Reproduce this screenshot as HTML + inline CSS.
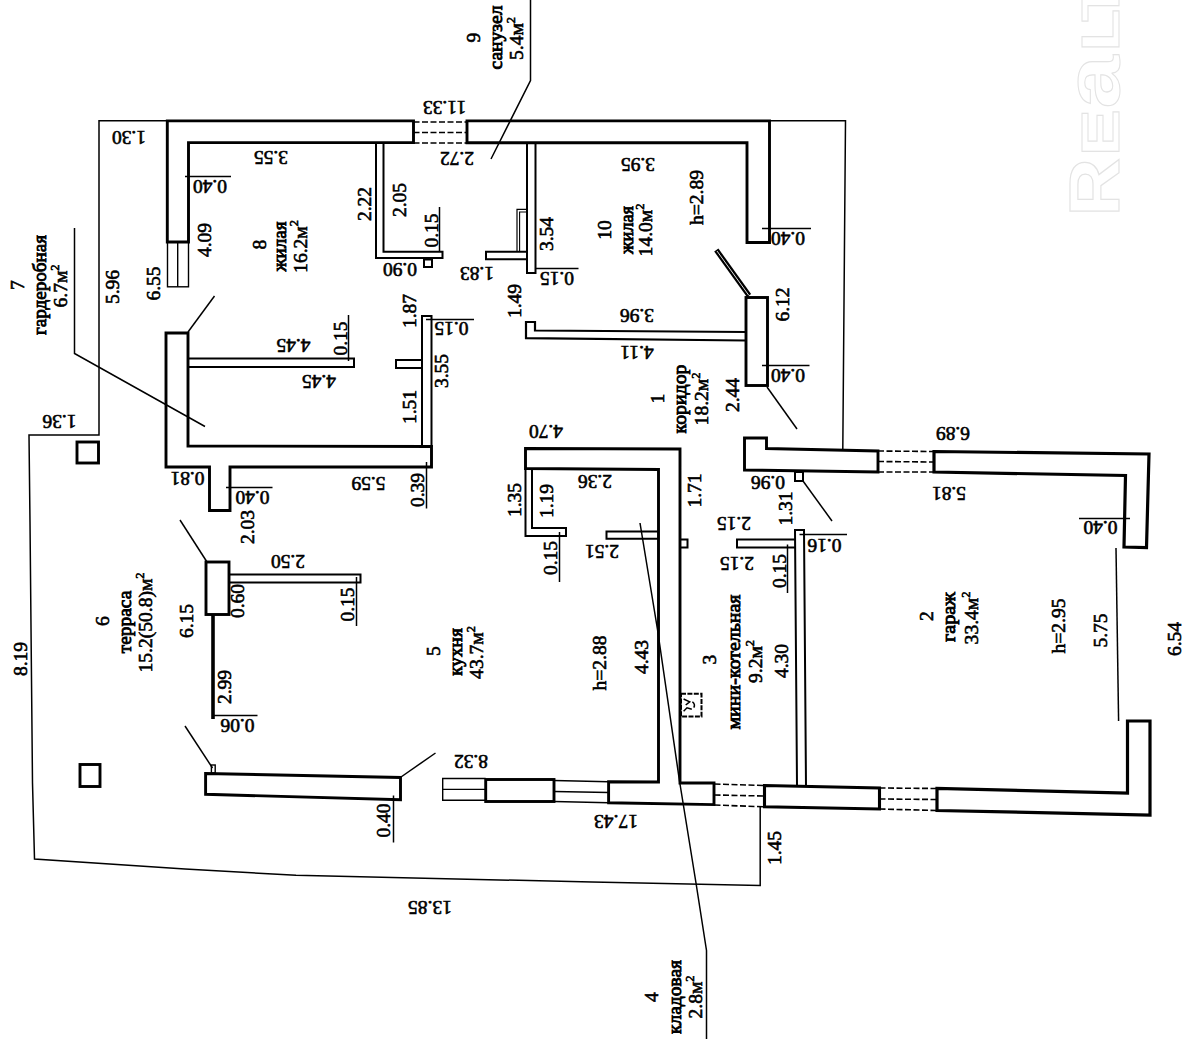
<!DOCTYPE html>
<html><head><meta charset="utf-8"><title>plan</title>
<style>
html,body{margin:0;padding:0;background:#fff;}
body{width:1184px;height:1044px;overflow:hidden;font-family:"Liberation Serif",serif;}
svg{display:block;}
</style></head><body>
<svg width="1184" height="1044" viewBox="0 0 1184 1044">
<rect x="0" y="0" width="1184" height="1044" fill="#fff"/>
<g stroke="#000" fill="none" stroke-linecap="butt" stroke-linejoin="miter">
<path d="M167,120.8 L99,120.8 L99,435 L29,435 L30,522 L32.5,783 L34.5,859 L185,869 L296,875.3 L592,882 L760.2,885.5 L760.2,807" stroke-width="1.5" fill="none"/>
<path d="M769.5,120.8 L845.5,120.8 L842.8,449" stroke-width="1.5" fill="none"/>
<path d="M530.5,0 L530.5,80.5 L491,159" stroke-width="1.5" fill="none"/>
<path d="M74.5,228 L74.5,353.5 L205,426.5" stroke-width="1.5" fill="none"/>
<path d="M640,523 L657.5,629.5 L679.5,781 L696,883 L706.5,950.5 L706.5,1039" stroke-width="1.5" fill="none"/>
<path d="M1116,548 L1118.6,721" stroke-width="1.5" fill="none"/>
<line x1="188" y1="332" x2="214.5" y2="296" stroke-width="1.5" />
<line x1="180" y1="520" x2="207" y2="562" stroke-width="1.5" />
<line x1="185" y1="726" x2="212.5" y2="768" stroke-width="1.5" />
<line x1="401" y1="777" x2="435.5" y2="753" stroke-width="1.5" />
<line x1="767" y1="387" x2="797" y2="429" stroke-width="1.5" />
<line x1="803" y1="481" x2="832" y2="521" stroke-width="1.5" />
</g>
<g stroke="#000" fill="none" stroke-linejoin="miter">
<path d="M167.3,120.9 L413.5,120.9 L413.5,142.6 L188.5,142.6 L188.5,242 L167.3,242 Z" stroke-width="2.9" fill="none"/>
<path d="M467,120.9 L769.5,120.9 L769.5,242.5 L747,242.5 L747,142.8 L467,142.8 Z" stroke-width="2.9" fill="none"/>
<line x1="413.5" y1="122" x2="467" y2="122" stroke-width="1.6" stroke-dasharray="6 2.5"/>
<line x1="413.5" y1="132.5" x2="467" y2="132.5" stroke-width="1.6" stroke-dasharray="6 2.5"/>
<line x1="413.5" y1="143" x2="467" y2="143" stroke-width="1.6" stroke-dasharray="6 2.5"/>
<rect x="167.5" y="242" width="21.0" height="44.80000000000001" stroke-width="1.4" fill="none" />
<line x1="177.7" y1="242" x2="177.7" y2="286.8" stroke-width="1.4" />
<path d="M166,333 L188,333 L188,446 L431.5,446.5 L431.5,467 L230,467 L230,510.5 L209.5,510.5 L209.5,467 L166,467 Z" stroke-width="2.9" fill="none"/>
<path d="M188,358.5 L354,358.5 L354,367 L188,367" stroke-width="2.0" fill="none"/>
<path d="M422,447 L422,316 L431.5,316 L431.5,447" stroke-width="2.0" fill="none"/>
<path d="M422,360 L396,360 L396,368 L422,368" stroke-width="2.0" fill="none"/>
<path d="M376,143 L376,258 L442.5,258 L442.5,251.7 L383.5,251.7 L383.5,143" stroke-width="2.0" fill="none"/>
<rect x="424" y="259.5" width="8" height="7.5" stroke-width="2.0" fill="none" />
<path d="M527,143 L527,273 L535.5,273 L535.5,143" stroke-width="2.0" fill="none"/>
<path d="M527,251.7 L486,251.7 L486,259.3 L527,259.3" stroke-width="2.0" fill="none"/>
<path d="M517,252 L517,209.3 L526,209.3" stroke-width="1.2" fill="none"/>
<path d="M519.6,252 L519.6,212 L526,212" stroke-width="1.1" fill="none"/>
<path d="M746,332 L535,330.5 L535,322 L526,322 L526,338.2 L746,340.5" stroke-width="2.2" fill="none"/>
<rect x="746" y="297.5" width="21.5" height="88.0" stroke-width="2.9" fill="none" />
<line x1="716.3" y1="250" x2="749" y2="295.5" stroke-width="5.2" />
<line x1="717" y1="251" x2="748.6" y2="295" stroke-width="1.0" stroke="#ddd"/>
<path d="M744.5,438 L766.5,438 L766.5,448.5 L878,451 L878,472 L744.5,470 Z" stroke-width="2.9" fill="none"/>
<line x1="878" y1="451" x2="934" y2="451.5" stroke-width="1.6" stroke-dasharray="6 2.5"/>
<line x1="878" y1="461.5" x2="934" y2="462" stroke-width="1.6" stroke-dasharray="6 2.5"/>
<line x1="878" y1="472" x2="934" y2="472" stroke-width="1.6" stroke-dasharray="6 2.5"/>
<path d="M934,451.5 L1149,454 L1146.5,547.5 L1124,547 L1125.5,475.5 L934,472 Z" stroke-width="3.2" fill="none"/>
<path d="M1127.5,721 L1150,721 L1150,815 L937,810.5 L937,788.5 L1127.5,793 Z" stroke-width="3.2" fill="none"/>
<path d="M764.5,785.5 L879.5,788 L879.5,809 L764.5,806.8 Z" stroke-width="3.1" fill="none"/>
<line x1="879.5" y1="788" x2="937" y2="788.5" stroke-width="1.6" stroke-dasharray="6 2.5"/>
<line x1="879.5" y1="799" x2="937" y2="799.5" stroke-width="1.6" stroke-dasharray="6 2.5"/>
<line x1="879.5" y1="809" x2="937" y2="810.5" stroke-width="1.6" stroke-dasharray="6 2.5"/>
<line x1="714.5" y1="784" x2="764.5" y2="785.5" stroke-width="1.6" stroke-dasharray="6 2.5"/>
<line x1="714.5" y1="795" x2="764.5" y2="796" stroke-width="1.6" stroke-dasharray="6 2.5"/>
<line x1="714.5" y1="805" x2="764.5" y2="806.8" stroke-width="1.6" stroke-dasharray="6 2.5"/>
<path d="M525.5,448.5 L680,449 L680,783 L714,783 L714,804.6 L608.6,802.8 L608.6,781.8 L658.5,782 L658.5,469.5 L525.5,468.5 Z" stroke-width="2.9" fill="none"/>
<path d="M525.5,468.5 L525.5,536 L566,536 L566,528 L532,528 L532,468.5" stroke-width="2.0" fill="none"/>
<path d="M658,531.5 L606.5,531.5 L606.5,538.8 L658,538.8" stroke-width="2.0" fill="none"/>
<rect x="680" y="539.5" width="7.5" height="8.0" stroke-width="2.0" fill="none" />
<path d="M795,539.5 L737,539.5 L737,547.5 L795,547.5" stroke-width="2.0" fill="none"/>
<path d="M797,785 L795,530 L804,530 L806,787" stroke-width="2.0" fill="none"/>
<rect x="795" y="472" width="8" height="9" stroke-width="2.0" fill="none" />
<rect x="206" y="562" width="23" height="52.5" stroke-width="2.9" fill="none" />
<path d="M229,574.5 L360.5,574.5 L360.5,582.5 L229,582.5" stroke-width="2.0" fill="none"/>
<line x1="213" y1="614.5" x2="213" y2="719" stroke-width="3.6" />
<path d="M205.6,773.5 L400.5,777.5 L400.5,799.8 L205.6,794.3 Z" stroke-width="2.9" fill="none"/>
<rect x="211.4" y="765" width="3.799999999999983" height="8" stroke-width="1.4" fill="none" />
<rect x="77" y="442" width="21.5" height="21" stroke-width="2.9" fill="none" />
<rect x="80" y="764.5" width="20" height="22.0" stroke-width="2.9" fill="none" />
<path d="M485.7,778.5 L442.7,778.5 L442.7,800.3 L485.7,800.3" stroke-width="1.4" fill="none"/>
<line x1="442.7" y1="789.4" x2="485.7" y2="789.4" stroke-width="1.4" />
<rect x="485.7" y="779.5" width="68.30000000000001" height="22.0" stroke-width="2.9" fill="none" />
<line x1="554" y1="780.5" x2="608.6" y2="781.8" stroke-width="1.4" />
<line x1="554" y1="791.5" x2="608.6" y2="792.5" stroke-width="1.4" />
<line x1="554" y1="801.5" x2="608.6" y2="802.8" stroke-width="1.4" />
<rect x="681" y="693.8" width="20.5" height="22.700000000000045" stroke-width="2.0" fill="none" stroke-dasharray="5 1.4"/>
<path d="M683.6,699 L689.7,701.8 L685.7,705" stroke-width="1.5" fill="none"/>
<path d="M683.6,711.2 L687,707.8 L691.8,709.2" stroke-width="1.5" fill="none"/>
<path d="M692.4,701.8 Q695.6,704.5 693.8,707.6" stroke-width="1.5"/>
</g>
<g stroke="#000" fill="none">
<line x1="185" y1="176.5" x2="231" y2="176.5" stroke-width="1.5" />
<line x1="762" y1="228.5" x2="811" y2="228.5" stroke-width="1.5" />
<line x1="762" y1="365.5" x2="809.5" y2="365.5" stroke-width="1.5" />
<line x1="226" y1="487.5" x2="272.5" y2="487.5" stroke-width="1.5" />
<line x1="535" y1="268.5" x2="578.5" y2="268.5" stroke-width="1.5" />
<line x1="426" y1="319.5" x2="474" y2="319.5" stroke-width="1.5" />
<line x1="214" y1="715.5" x2="257.5" y2="715.5" stroke-width="1.5" />
<line x1="799.5" y1="534.5" x2="847" y2="534.5" stroke-width="1.5" />
<line x1="1079" y1="518.5" x2="1130" y2="518.5" stroke-width="1.5" />
<line x1="439.5" y1="207" x2="439.5" y2="251" stroke-width="1.5" />
<line x1="348.5" y1="315" x2="348.5" y2="361" stroke-width="1.5" />
<line x1="426.5" y1="462" x2="426.5" y2="508.5" stroke-width="1.5" />
<line x1="356.5" y1="577" x2="356.5" y2="626" stroke-width="1.5" />
<line x1="559.5" y1="532" x2="559.5" y2="582" stroke-width="1.5" />
<line x1="787.5" y1="544.5" x2="787.5" y2="593" stroke-width="1.5" />
<line x1="393.5" y1="795.5" x2="393.5" y2="842.5" stroke-width="1.5" />
</g>
<g fill="#000" stroke="#000" stroke-width="0.6" font-family="'Liberation Serif', serif">
<text transform="translate(129,137) rotate(180) scale(1.03,1)" text-anchor="middle" font-size="19" dy="0.335em" >1.30</text>
<text transform="translate(271,157.5) rotate(180) scale(1.03,1)" text-anchor="middle" font-size="19" dy="0.335em" >3.55</text>
<text transform="translate(210,186.5) rotate(180) scale(1.03,1)" text-anchor="middle" font-size="19" dy="0.335em" >0.40</text>
<text transform="translate(444.5,107.5) rotate(180) scale(1.03,1)" text-anchor="middle" font-size="19" dy="0.335em" >11.33</text>
<text transform="translate(457,158) rotate(180) scale(1.03,1)" text-anchor="middle" font-size="19" dy="0.335em" >2.72</text>
<text transform="translate(638,164) rotate(180) scale(1.03,1)" text-anchor="middle" font-size="19" dy="0.335em" >3.95</text>
<text transform="translate(788,238.5) rotate(180) scale(1.03,1)" text-anchor="middle" font-size="19" dy="0.335em" >0.40</text>
<text transform="translate(400,269) rotate(180) scale(1.03,1)" text-anchor="middle" font-size="19" dy="0.335em" >0.90</text>
<text transform="translate(477,273.5) rotate(180) scale(1.03,1)" text-anchor="middle" font-size="19" dy="0.335em" >1.83</text>
<text transform="translate(557,278) rotate(180) scale(1.03,1)" text-anchor="middle" font-size="19" dy="0.335em" >0.15</text>
<text transform="translate(451.5,328) rotate(180) scale(1.03,1)" text-anchor="middle" font-size="19" dy="0.335em" >0.15</text>
<text transform="translate(293.5,345) rotate(180) scale(1.03,1)" text-anchor="middle" font-size="19" dy="0.335em" >4.45</text>
<text transform="translate(319,381) rotate(180) scale(1.03,1)" text-anchor="middle" font-size="19" dy="0.335em" >4.45</text>
<text transform="translate(637,315) rotate(180) scale(1.03,1)" text-anchor="middle" font-size="19" dy="0.335em" >3.96</text>
<text transform="translate(637,352) rotate(180) scale(1.03,1)" text-anchor="middle" font-size="19" dy="0.335em" >4.11</text>
<text transform="translate(788,375.5) rotate(180) scale(1.03,1)" text-anchor="middle" font-size="19" dy="0.335em" >0.40</text>
<text transform="translate(59.5,421) rotate(180) scale(1.03,1)" text-anchor="middle" font-size="19" dy="0.335em" >1.36</text>
<text transform="translate(187.5,478.5) rotate(180) scale(1.03,1)" text-anchor="middle" font-size="19" dy="0.335em" >0.81</text>
<text transform="translate(252.5,497) rotate(180) scale(1.03,1)" text-anchor="middle" font-size="19" dy="0.335em" >0.40</text>
<text transform="translate(368.5,483.5) rotate(180) scale(1.03,1)" text-anchor="middle" font-size="19" dy="0.335em" >5.59</text>
<text transform="translate(546,431) rotate(180) scale(1.03,1)" text-anchor="middle" font-size="19" dy="0.335em" >4.70</text>
<text transform="translate(595,481) rotate(180) scale(1.03,1)" text-anchor="middle" font-size="19" dy="0.335em" >2.36</text>
<text transform="translate(768,482) rotate(180) scale(1.03,1)" text-anchor="middle" font-size="19" dy="0.335em" >0.96</text>
<text transform="translate(953,433.5) rotate(180) scale(1.03,1)" text-anchor="middle" font-size="19" dy="0.335em" >6.89</text>
<text transform="translate(949,493) rotate(180) scale(1.03,1)" text-anchor="middle" font-size="19" dy="0.335em" >5.81</text>
<text transform="translate(1100.5,527.5) rotate(180) scale(1.03,1)" text-anchor="middle" font-size="19" dy="0.335em" >0.40</text>
<text transform="translate(602,551.5) rotate(180) scale(1.03,1)" text-anchor="middle" font-size="19" dy="0.335em" >2.51</text>
<text transform="translate(734,523.5) rotate(180) scale(1.03,1)" text-anchor="middle" font-size="19" dy="0.335em" >2.15</text>
<text transform="translate(737,563) rotate(180) scale(1.03,1)" text-anchor="middle" font-size="19" dy="0.335em" >2.15</text>
<text transform="translate(824.5,545) rotate(180) scale(1.03,1)" text-anchor="middle" font-size="19" dy="0.335em" >0.16</text>
<text transform="translate(288,561) rotate(180) scale(1.03,1)" text-anchor="middle" font-size="19" dy="0.335em" >2.50</text>
<text transform="translate(237.5,725) rotate(180) scale(1.03,1)" text-anchor="middle" font-size="19" dy="0.335em" >0.06</text>
<text transform="translate(471,761) rotate(180) scale(1.03,1)" text-anchor="middle" font-size="19" dy="0.335em" >8.32</text>
<text transform="translate(616,821.5) rotate(180) scale(1.03,1)" text-anchor="middle" font-size="19" dy="0.335em" >17.43</text>
<text transform="translate(430,907) rotate(180) scale(1.03,1)" text-anchor="middle" font-size="19" dy="0.335em" >13.85</text>
<text transform="translate(204.5,240) rotate(-90) scale(1.03,1)" text-anchor="middle" font-size="19" dy="0.335em" >4.09</text>
<text transform="translate(154,283.5) rotate(-90) scale(1.03,1)" text-anchor="middle" font-size="19" dy="0.335em" >6.55</text>
<text transform="translate(112.5,287) rotate(-90) scale(1.03,1)" text-anchor="middle" font-size="19" dy="0.335em" >5.96</text>
<text transform="translate(364.5,204) rotate(-90) scale(1.03,1)" text-anchor="middle" font-size="19" dy="0.335em" >2.22</text>
<text transform="translate(399.5,200) rotate(-90) scale(1.03,1)" text-anchor="middle" font-size="19" dy="0.335em" >2.05</text>
<text transform="translate(432,230.5) rotate(-90) scale(1.03,1)" text-anchor="middle" font-size="19" dy="0.335em" >0.15</text>
<text transform="translate(547,234) rotate(-90) scale(1.03,1)" text-anchor="middle" font-size="19" dy="0.335em" >3.54</text>
<text transform="translate(697,197.5) rotate(-90) scale(1.03,1)" text-anchor="middle" font-size="19" dy="0.335em" >h=2.89</text>
<text transform="translate(409.5,311) rotate(-90) scale(1.03,1)" text-anchor="middle" font-size="19" dy="0.335em" >1.87</text>
<text transform="translate(442,371) rotate(-90) scale(1.03,1)" text-anchor="middle" font-size="19" dy="0.335em" >3.55</text>
<text transform="translate(409.5,407) rotate(-90) scale(1.03,1)" text-anchor="middle" font-size="19" dy="0.335em" >1.51</text>
<text transform="translate(341,338.5) rotate(-90) scale(1.03,1)" text-anchor="middle" font-size="19" dy="0.335em" >0.15</text>
<text transform="translate(515,301) rotate(-90) scale(1.03,1)" text-anchor="middle" font-size="19" dy="0.335em" >1.49</text>
<text transform="translate(782.5,304.5) rotate(-90) scale(1.03,1)" text-anchor="middle" font-size="19" dy="0.335em" >6.12</text>
<text transform="translate(733,395) rotate(-90) scale(1.03,1)" text-anchor="middle" font-size="19" dy="0.335em" >2.44</text>
<text transform="translate(417.5,490) rotate(-90) scale(1.03,1)" text-anchor="middle" font-size="19" dy="0.335em" >0.39</text>
<text transform="translate(514.5,500) rotate(-90) scale(1.03,1)" text-anchor="middle" font-size="19" dy="0.335em" >1.35</text>
<text transform="translate(547,501) rotate(-90) scale(1.03,1)" text-anchor="middle" font-size="19" dy="0.335em" >1.19</text>
<text transform="translate(694.5,490.5) rotate(-90) scale(1.03,1)" text-anchor="middle" font-size="19" dy="0.335em" >1.71</text>
<text transform="translate(786,508.5) rotate(-90) scale(1.03,1)" text-anchor="middle" font-size="19" dy="0.335em" >1.31</text>
<text transform="translate(248,527) rotate(-90) scale(1.03,1)" text-anchor="middle" font-size="19" dy="0.335em" >2.03</text>
<text transform="translate(237.5,601) rotate(-90) scale(1.03,1)" text-anchor="middle" font-size="19" dy="0.335em" >0.60</text>
<text transform="translate(187,621) rotate(-90) scale(1.03,1)" text-anchor="middle" font-size="19" dy="0.335em" >6.15</text>
<text transform="translate(225,687) rotate(-90) scale(1.03,1)" text-anchor="middle" font-size="19" dy="0.335em" >2.99</text>
<text transform="translate(20.5,659) rotate(-90) scale(1.03,1)" text-anchor="middle" font-size="19" dy="0.335em" >8.19</text>
<text transform="translate(347.5,604.5) rotate(-90) scale(1.03,1)" text-anchor="middle" font-size="19" dy="0.335em" >0.15</text>
<text transform="translate(551,558) rotate(-90) scale(1.03,1)" text-anchor="middle" font-size="19" dy="0.335em" >0.15</text>
<text transform="translate(779.5,571) rotate(-90) scale(1.03,1)" text-anchor="middle" font-size="19" dy="0.335em" >0.15</text>
<text transform="translate(782,661) rotate(-90) scale(1.03,1)" text-anchor="middle" font-size="19" dy="0.335em" >4.30</text>
<text transform="translate(642,657) rotate(-90) scale(1.03,1)" text-anchor="middle" font-size="19" dy="0.335em" >4.43</text>
<text transform="translate(599.5,663) rotate(-90) scale(1.03,1)" text-anchor="middle" font-size="19" dy="0.335em" >h=2.88</text>
<text transform="translate(1059,626) rotate(-90) scale(1.03,1)" text-anchor="middle" font-size="19" dy="0.335em" >h=2.95</text>
<text transform="translate(1100.5,630.5) rotate(-90) scale(1.03,1)" text-anchor="middle" font-size="19" dy="0.335em" >5.75</text>
<text transform="translate(1174.3,639) rotate(-90) scale(1.03,1)" text-anchor="middle" font-size="19" dy="0.335em" >6.54</text>
<text transform="translate(384,820.5) rotate(-90) scale(1.03,1)" text-anchor="middle" font-size="19" dy="0.335em" >0.40</text>
<text transform="translate(775,848) rotate(-90) scale(1.03,1)" text-anchor="middle" font-size="19" dy="0.335em" >1.45</text>
<text transform="translate(17.5,285) rotate(-90) scale(1.03,1)" text-anchor="middle" font-size="19" dy="0.335em" >7</text>
<text transform="translate(40,285) rotate(-90) scale(1.0,1)" text-anchor="middle" font-size="19" dy="0.335em" textLength="100" lengthAdjust="spacingAndGlyphs" stroke-width="0.85">гардеробная</text>
<text transform="translate(61,286) rotate(-90) scale(1.03,1)" text-anchor="middle" font-size="19" dy="0.335em" >6.7м<tspan dy="-8.5" font-size="12">2</tspan></text>
<text transform="translate(260,244.5) rotate(-90) scale(1.03,1)" text-anchor="middle" font-size="19" dy="0.335em" >8</text>
<text transform="translate(280,246.6) rotate(-90) scale(1.0,1)" text-anchor="middle" font-size="19" dy="0.335em" textLength="50" lengthAdjust="spacingAndGlyphs" stroke-width="0.85">жилая</text>
<text transform="translate(300.5,246.5) rotate(-90) scale(1.03,1)" text-anchor="middle" font-size="19" dy="0.335em" >16.2м<tspan dy="-8.5" font-size="12">2</tspan></text>
<text transform="translate(474,37.5) rotate(-90) scale(1.03,1)" text-anchor="middle" font-size="19" dy="0.335em" >9</text>
<text transform="translate(496,37.5) rotate(-90) scale(1.0,1)" text-anchor="middle" font-size="19" dy="0.335em" textLength="64" lengthAdjust="spacingAndGlyphs" stroke-width="0.85">санузел</text>
<text transform="translate(517,38.5) rotate(-90) scale(1.03,1)" text-anchor="middle" font-size="19" dy="0.335em" >5.4м<tspan dy="-8.5" font-size="12">2</tspan></text>
<text transform="translate(604.5,230) rotate(-90) scale(1.03,1)" text-anchor="middle" font-size="19" dy="0.335em" >10</text>
<text transform="translate(627,230) rotate(-90) scale(1.0,1)" text-anchor="middle" font-size="19" dy="0.335em" textLength="48" lengthAdjust="spacingAndGlyphs" stroke-width="0.85">жилая</text>
<text transform="translate(646,230) rotate(-90) scale(1.03,1)" text-anchor="middle" font-size="19" dy="0.335em" >14.0м<tspan dy="-8.5" font-size="12">2</tspan></text>
<text transform="translate(658,398.5) rotate(-90) scale(1.03,1)" text-anchor="middle" font-size="19" dy="0.335em" >1</text>
<text transform="translate(680,399) rotate(-90) scale(1.0,1)" text-anchor="middle" font-size="19" dy="0.335em" textLength="69" lengthAdjust="spacingAndGlyphs" stroke-width="0.85">коридор</text>
<text transform="translate(702,399) rotate(-90) scale(1.03,1)" text-anchor="middle" font-size="19" dy="0.335em" >18.2м<tspan dy="-8.5" font-size="12">2</tspan></text>
<text transform="translate(102.5,621) rotate(-90) scale(1.03,1)" text-anchor="middle" font-size="19" dy="0.335em" >6</text>
<text transform="translate(125,622) rotate(-90) scale(1.0,1)" text-anchor="middle" font-size="19" dy="0.335em" textLength="62.5" lengthAdjust="spacingAndGlyphs" stroke-width="0.85">терраса</text>
<text transform="translate(146,622.5) rotate(-90) scale(1.03,1)" text-anchor="middle" font-size="19" dy="0.335em" >15.2(50.8)м<tspan dy="-8.5" font-size="12">2</tspan></text>
<text transform="translate(433.5,651) rotate(-90) scale(1.03,1)" text-anchor="middle" font-size="19" dy="0.335em" >5</text>
<text transform="translate(456,652) rotate(-90) scale(1.0,1)" text-anchor="middle" font-size="19" dy="0.335em" textLength="47.5" lengthAdjust="spacingAndGlyphs" stroke-width="0.85">кухня</text>
<text transform="translate(477,652.5) rotate(-90) scale(1.03,1)" text-anchor="middle" font-size="19" dy="0.335em" >43.7м<tspan dy="-8.5" font-size="12">2</tspan></text>
<text transform="translate(709.5,659.5) rotate(-90) scale(1.03,1)" text-anchor="middle" font-size="19" dy="0.335em" >3</text>
<text transform="translate(734,662) rotate(-90) scale(1.0,1)" text-anchor="middle" font-size="19" dy="0.335em" textLength="135" lengthAdjust="spacingAndGlyphs" stroke-width="0.85">мини-котельная</text>
<text transform="translate(756,661.5) rotate(-90) scale(1.03,1)" text-anchor="middle" font-size="19" dy="0.335em" >9.2м<tspan dy="-8.5" font-size="12">2</tspan></text>
<text transform="translate(927,616) rotate(-90) scale(1.03,1)" text-anchor="middle" font-size="19" dy="0.335em" >2</text>
<text transform="translate(949,617) rotate(-90) scale(1.0,1)" text-anchor="middle" font-size="19" dy="0.335em" textLength="50" lengthAdjust="spacingAndGlyphs" stroke-width="0.85">гараж</text>
<text transform="translate(972,618) rotate(-90) scale(1.03,1)" text-anchor="middle" font-size="19" dy="0.335em" >33.4м<tspan dy="-8.5" font-size="12">2</tspan></text>
<text transform="translate(652,997) rotate(-90) scale(1.03,1)" text-anchor="middle" font-size="19" dy="0.335em" >4</text>
<text transform="translate(675,997) rotate(-90) scale(1.0,1)" text-anchor="middle" font-size="19" dy="0.335em" textLength="74" lengthAdjust="spacingAndGlyphs" stroke-width="0.85">кладовая</text>
<text transform="translate(696,997) rotate(-90) scale(1.03,1)" text-anchor="middle" font-size="19" dy="0.335em" >2.8м<tspan dy="-8.5" font-size="12">2</tspan></text>
</g>
<g fill="none" stroke="#e3e3e3" stroke-width="1.3" font-family="'Liberation Sans', sans-serif" font-weight="bold">
<text transform="translate(1119.4,216.5) rotate(-90) scale(1.16,1)" font-size="70" stroke-width="1.12">R</text>
<text transform="translate(1119.4,156) rotate(-90) scale(1.3,1)" font-size="54" stroke-width="1.00">E</text>
<text transform="translate(1119.4,108.5) rotate(-90) scale(1.26,1.0)" font-size="76" stroke-width="1.03">a</text>
<text transform="translate(1119.4,51.5) rotate(-90) scale(1.3,1)" font-size="54" stroke-width="1.00">L</text>
<text transform="translate(1119.4,22) rotate(-90) scale(1.3,1)" font-size="54" stroke-width="1.00">T</text>
</g>
</svg>
</body></html>
